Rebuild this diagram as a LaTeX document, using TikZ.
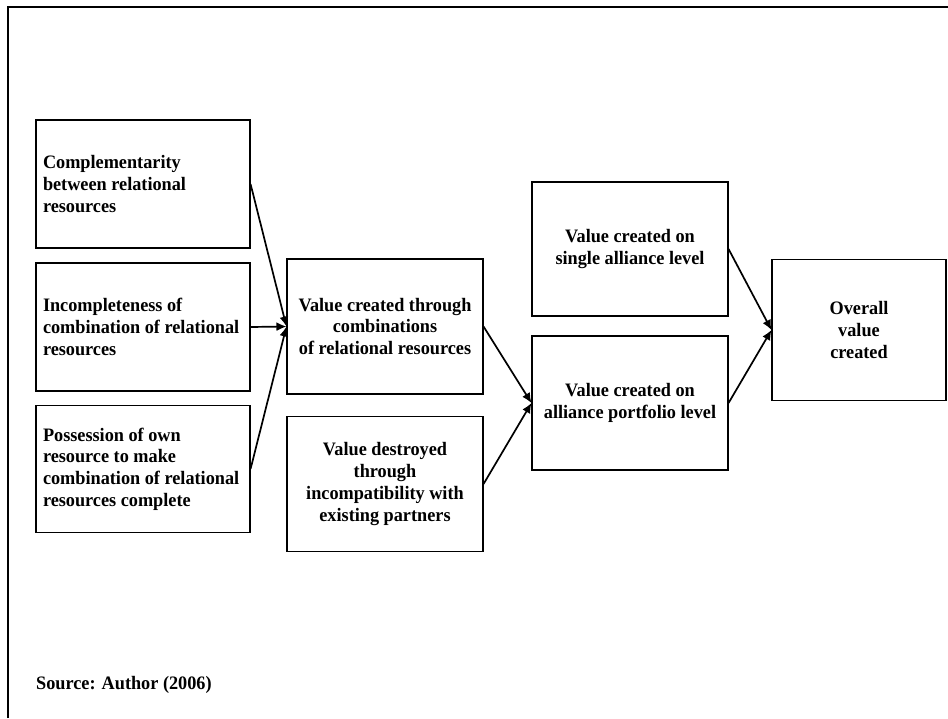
\documentclass[tikz,border=0pt]{standalone}
\usepackage{fontspec}
\setmainfont[FakeStretch=0.96]{Liberation Serif}
\usetikzlibrary{arrows.meta}
\tikzstyle{leftbox} = [draw,line width=1.1pt,inner sep=7pt,text width=200pt,minimum height=128pt,align=flush left,font=\bfseries\fontsize{19}{21.7}\selectfont]
\tikzstyle{midbox} = [draw,line width=1.1pt,inner sep=5pt,text width=186pt,minimum height=135pt,align=flush center,font=\bfseries\fontsize{19}{21.7}\selectfont]
\tikzstyle{flow} = [-{Latex[length=10pt,width=9pt]},line width=1.7pt]

\begin{document}
\begin{tikzpicture}[x=1pt,y=-1pt]
			\useasboundingbox (0,0) rectangle (948,718);
			\draw[line width=2.5pt] (8,718) -- (8,7) -- (948,7);
			
			\node[leftbox] (compl) at (143,184) {Complementarity\\between relational\\resources};
			\node[leftbox] (incompl) at (143,327) {Incompleteness of\\combination of relational\\resources};
			\node[leftbox,minimum height=127pt] (possess) at (143,469) {Possession of own\\resource to make\\combination of relational\\resources complete};
			
			\node[midbox] (comb) at (385,326.5) {Value created through\\combinations\\of relational resources};
			\node[midbox] (destroy) at (385,484) {Value destroyed\\through\\incompatibility with\\existing partners};
			
			\node[midbox,minimum height=134pt] (single) at (630,249) {Value created on\\single alliance level};
			\node[midbox,minimum height=134pt] (portf) at (630,403) {Value created on\\alliance portfolio level};
			
			\node[midbox,text width=164pt,minimum height=141pt] (overall) at (859,330) {Overall\\value\\created};
			
			\node[anchor=west,inner sep=0pt,font=\bfseries\fontsize{19}{21.7}\selectfont] (source) at (36,685) {Source: Author (2006)};
			
			\draw[flow] (compl.east) -- (comb.west);
			\draw[flow] (incompl.east) -- (comb.west);
			\draw[flow] (possess.east) -- (comb.west);
			\draw[flow] (comb.east) -- (portf.west);
			\draw[flow] (destroy.east) -- (portf.west);
			\draw[flow] (single.east) -- (overall.west);
			\draw[flow] (portf.east) -- (overall.west);
		\end{tikzpicture}
\end{document}
